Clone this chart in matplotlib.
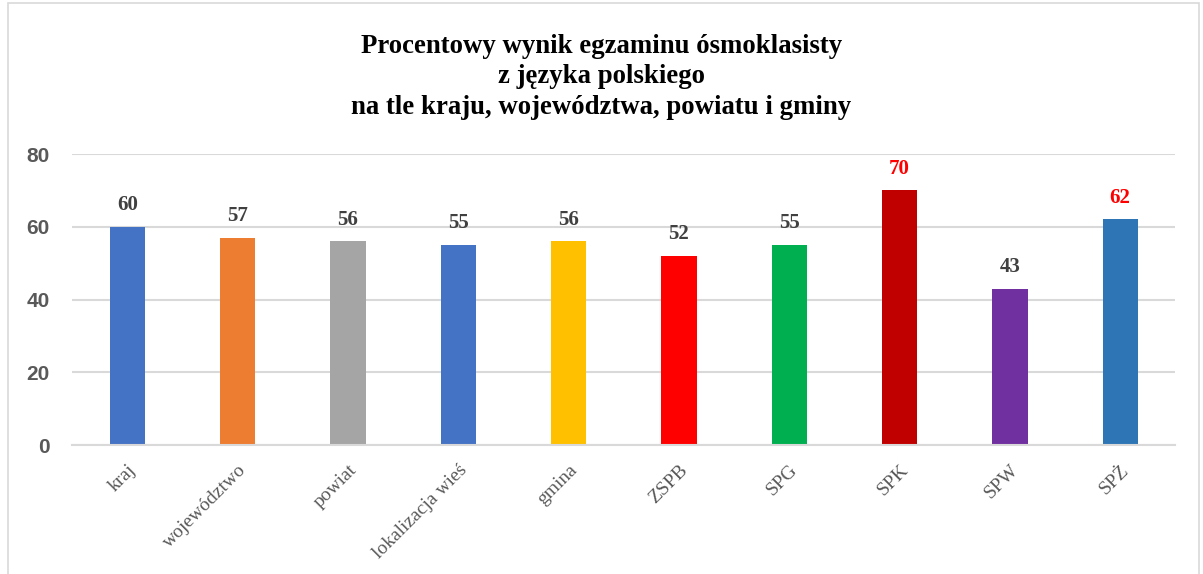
import matplotlib.pyplot as plt
from matplotlib.patches import Rectangle

# data
categories = ['kraj', 'województwo', 'powiat', 'lokalizacja wieś', 'gmina',
              'ZSPB', 'SPG', 'SPK', 'SPW', 'SPŻ']
values = [60, 57, 56, 55, 56, 52, 55, 70, 43, 62]
bar_colors = ['#4472C4', '#ED7D31', '#A5A5A5', '#4472C4', '#FFC000',
              '#FF0000', '#00B050', '#C00000', '#7030A0', '#2E75B6']
label_colors = ['#404040'] * 7 + ['#FF0000', '#404040', '#FF0000']
y_ticks = [0, 20, 40, 60, 80]
title = ('Procentowy wynik egzaminu ósmoklasisty\n'
         'z języka polskiego\n'
         'na tle kraju, województwa, powiatu i gminy')

fig = plt.figure(figsize=(12.03, 5.74), dpi=100)
ax = fig.add_axes([0.060, 0.2247, 0.917, 0.507])

x = range(len(categories))
bars = ax.bar(x, values, width=0.32, color=bar_colors, zorder=2)

for rect, v, c in zip(bars, values, label_colors):
    ax.text(rect.get_x() + rect.get_width() / 2, v + 3.2, str(v),
            ha='center', va='bottom', fontsize=15, fontweight='bold',
            family='Liberation Serif', color=c)

ax.set_xlim(-0.5, len(categories) - 0.5)
ax.set_ylim(0, 80)
ax.set_yticks(y_ticks)
ax.set_yticklabels([str(t) for t in y_ticks], fontsize=15, fontweight='bold',
                   family='Liberation Sans', color='#595959')
ax.set_xticks(list(x))
ax.set_xticklabels(categories, rotation=45, ha='right', rotation_mode='anchor',
                   fontsize=14, family='Liberation Serif', color='#595959')
ax.tick_params(axis='both', length=0)
ax.tick_params(axis='y', pad=16)
ax.tick_params(axis='x', pad=12)

ax.grid(axis='y', color='#D9D9D9', linewidth=1.5, zorder=0)
for s in ['top', 'right', 'left']:
    ax.spines[s].set_visible(False)
ax.spines['bottom'].set_color('#D9D9D9')
ax.spines['bottom'].set_linewidth(1.5)

fig.text(0.5, 0.866, title, ha='center', va='center', fontsize=19.3,
         fontweight='bold', family='Liberation Serif', color='black',
         linespacing=1.3)

# outer chart border
fig.patches.append(Rectangle((0.007, -0.01), 0.99, 1.005, transform=fig.transFigure,
                             fill=False, edgecolor='#D9D9D9', linewidth=1.2))

fig.savefig('out.png', dpi=100)
